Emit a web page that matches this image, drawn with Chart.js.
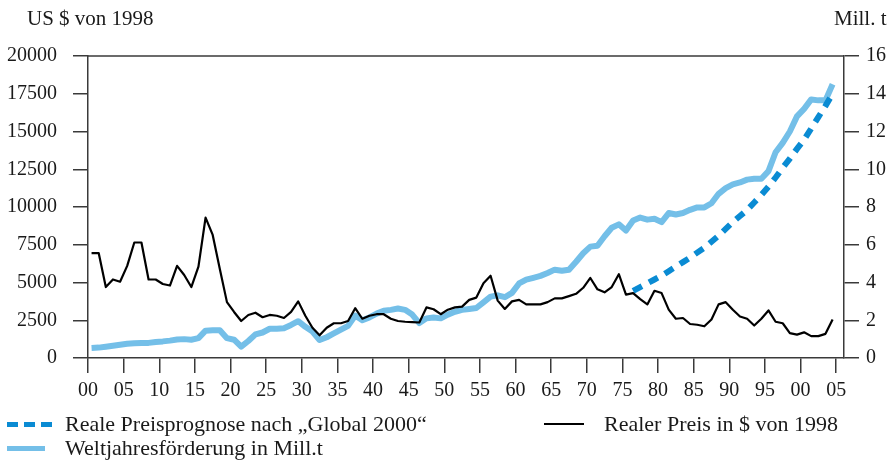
<!DOCTYPE html>
<html>
<head>
<meta charset="utf-8">
<script src="https://cdn.jsdelivr.net/npm/chart.js@4.4.1/dist/chart.umd.min.js"></script>
<style>
  body { margin: 0; background: #fff; }
  #wrap { position: relative; width: 894px; height: 460px; font-family: 'Liberation Serif', 'DejaVu Serif', serif; color: #1a1a1a; }
  #chart { position: absolute; left: 0; top: 0; }
  .txt { position: absolute; font-size: 22px; height: 24px; line-height: 24px; white-space: nowrap; }
  .title { font-size: 21px; }
  .sw { position: absolute; }
</style>
</head>
<body>
<div id="wrap">
  <canvas id="chart" width="894" height="460"></canvas>
  <div class="txt title" style="left:27px; top:6px;">US $ von 1998</div>
  <div class="txt title" style="left:834px; top:6px;">Mill. t</div>

  <div class="sw" style="left:7px; top:422px; width:11px; height:5px; background:#0a8bd3;"></div>
  <div class="sw" style="left:24px; top:422px; width:11px; height:5px; background:#0a8bd3;"></div>
  <div class="sw" style="left:41px; top:422px; width:11px; height:5px; background:#0a8bd3;"></div>
  <div class="txt" style="left:65px; top:412px;">Reale Preisprognose nach „Global 2000“</div>

  <div class="sw" style="left:544px; top:423px; width:40px; height:2px; background:#000;"></div>
  <div class="txt" style="left:604px; top:412px;">Realer Preis in $ von 1998</div>

  <div class="sw" style="left:7px; top:446px; width:38px; height:5px; background:#74bfe8;"></div>
  <div class="txt" style="left:65px; top:436px;">Weltjahresförderung in Mill.t</div>
</div>
<script>
// Jahre 1900 - 2004
const years = Array.from({ length: 105 }, (_, i) => 1900 + i);
const forecastYears = Array.from({ length: 29 }, (_, i) => 1976 + i);

// Realer Preis in US $ von 1998
const realPrice = [
  6950, 6950, 4700, 5200, 5050, 6100, 7650, 7650, 5200, 5200,
  4900, 4800, 6100, 5500, 4700, 6050, 9300, 8150, 5900, 3700,
  3050, 2450, 2850, 3000, 2700, 2850, 2800, 2650, 3050, 3750,
  2800, 2000, 1500, 2000, 2300, 2300, 2450, 3300, 2600, 2800,
  2900, 2900, 2600, 2450, 2400, 2380, 2350, 3350, 3230, 2900,
  3200, 3350, 3400, 3850, 4000, 4950, 5450, 3800, 3250, 3750,
  3850, 3550, 3550, 3550, 3700, 3950, 3950, 4100, 4250, 4650,
  5300, 4550, 4350, 4700, 5550, 4200, 4300, 3900, 3550, 4450,
  4300, 3200, 2600, 2650, 2250, 2200, 2100, 2550, 3550, 3700,
  3200, 2750, 2600, 2150, 2600, 3150, 2400, 2300, 1650, 1550,
  1700, 1450, 1450, 1600, 2550
];

// Weltjahresförderung in Mill. t
const production = [
  0.53, 0.55, 0.6, 0.65, 0.7, 0.75, 0.78, 0.8, 0.8, 0.85,
  0.88, 0.92, 0.98, 1.0, 0.97, 1.05, 1.45, 1.47, 1.47, 1.05,
  0.97, 0.6, 0.9, 1.25, 1.35, 1.55, 1.55, 1.58, 1.75, 1.95,
  1.65, 1.4, 0.95, 1.1, 1.3, 1.5, 1.7, 2.25, 2.0, 2.15,
  2.35, 2.5, 2.55, 2.62, 2.55, 2.3, 1.85, 2.1, 2.15, 2.1,
  2.3, 2.45, 2.55, 2.6, 2.65, 2.95, 3.25, 3.32, 3.22, 3.45,
  3.95, 4.15, 4.25, 4.35, 4.5, 4.68, 4.62, 4.68, 5.1, 5.55,
  5.9, 5.95, 6.45, 6.9, 7.08, 6.75, 7.28, 7.44, 7.33, 7.38,
  7.2, 7.68, 7.6, 7.68, 7.85, 7.98, 7.98, 8.2, 8.7, 9.0,
  9.2, 9.3, 9.45, 9.5, 9.5, 9.9, 10.9, 11.4, 12.0, 12.8,
  13.2, 13.7, 13.65, 13.65, 14.5
];

// Reale Preisprognose nach "Global 2000"
const forecast = [
  4450, 4700, 4950, 5200, 5450, 5750, 6050, 6350, 6650, 6980,
  7300, 7700, 8100, 8550, 9000, 9400, 9800, 10300, 10800, 11350,
  11950, 12600, 13200, 13850, 14450, 15200, 15950, 16700, 17500
];

const xTicks = [1900, 1905, 1910, 1915, 1920, 1925, 1930, 1935, 1940, 1945, 1950,
  1955, 1960, 1965, 1970, 1975, 1980, 1985, 1990, 1995, 2000, 2005];
const priceTicks = [0, 2500, 5000, 7500, 10000, 12500, 15000, 17500, 20000];
const tonTicks = [0, 2, 4, 6, 8, 10, 12, 14, 16];

const axisColor = '#3a3a3a';
const font = { family: "'Liberation Serif', serif", size: 20 };

// Werte liegen jeweils in der Mitte des Jahres
const toPoints = (xs, ys) => xs.map((y, i) => ({ x: y + 0.5, y: ys[i] }));

// obere Rahmenlinie
const topLine = {
  id: 'topLine',
  afterDraw(chart) {
    const { ctx, chartArea } = chart;
    ctx.save();
    ctx.strokeStyle = axisColor;
    ctx.lineWidth = 1.5;
    ctx.beginPath();
    ctx.moveTo(chartArea.left, chartArea.top);
    ctx.lineTo(chartArea.right, chartArea.top);
    ctx.stroke();
    ctx.restore();
  }
};

new Chart(document.getElementById('chart'), {
  type: 'line',
  data: {
    datasets: [
      {
        label: 'Realer Preis in $ von 1998',
        data: toPoints(years, realPrice),
        yAxisID: 'y',
        borderColor: '#000',
        borderWidth: 2.2,
        borderJoinStyle: 'round',
        pointRadius: 0,
        order: 0
      },
      {
        label: 'Reale Preisprognose nach „Global 2000“',
        data: toPoints(forecastYears, forecast),
        yAxisID: 'y',
        borderColor: '#0a8bd3',
        borderWidth: 6,
        borderDash: [10, 8],
        pointRadius: 0,
        order: 1
      },
      {
        label: 'Weltjahresförderung in Mill.t',
        data: toPoints(years, production),
        yAxisID: 'y2',
        borderColor: '#74bfe8',
        borderWidth: 6,
        borderJoinStyle: 'round',
        pointRadius: 0,
        order: 2
      }
    ]
  },
  options: {
    responsive: false,
    animation: false,
    layout: { padding: { top: 56, left: 0, right: 0, bottom: 0 } },
    plugins: { legend: { display: false }, tooltip: { enabled: false } },
    scales: {
      x: {
        type: 'linear',
        min: 1900,
        max: 2006.1,
        afterBuildTicks: scale => { scale.ticks = xTicks.map(v => ({ value: v })); },
        afterFit: scale => { scale.height = 102; },
        grid: { drawOnChartArea: false, tickLength: 15, color: axisColor, lineWidth: 1.5 },
        border: { color: axisColor, width: 1.5 },
        ticks: {
          padding: 6,
          maxRotation: 0,
          autoSkip: false,
          color: '#1a1a1a',
          font: font,
          callback: v => String(v % 100).padStart(2, '0')
        }
      },
      y: {
        position: 'left',
        min: 0,
        max: 20000,
        afterBuildTicks: scale => { scale.ticks = priceTicks.map(v => ({ value: v })); },
        afterFit: scale => { scale.width = 88; },
        grid: { drawOnChartArea: false, tickLength: 15, color: axisColor, lineWidth: 1.5 },
        border: { color: axisColor, width: 1.5 },
        ticks: { padding: 16, color: '#1a1a1a', font: font, callback: v => String(v) }
      },
      y2: {
        position: 'right',
        min: 0,
        max: 16,
        afterBuildTicks: scale => { scale.ticks = tonTicks.map(v => ({ value: v })); },
        afterFit: scale => { scale.width = 50; },
        grid: { drawOnChartArea: false, tickLength: 15, color: axisColor, lineWidth: 1.5 },
        border: { color: axisColor, width: 1.5 },
        ticks: { padding: 7, color: '#1a1a1a', font: font, callback: v => String(v) }
      }
    }
  },
  plugins: [topLine]
});
</script>
</body>
</html>
